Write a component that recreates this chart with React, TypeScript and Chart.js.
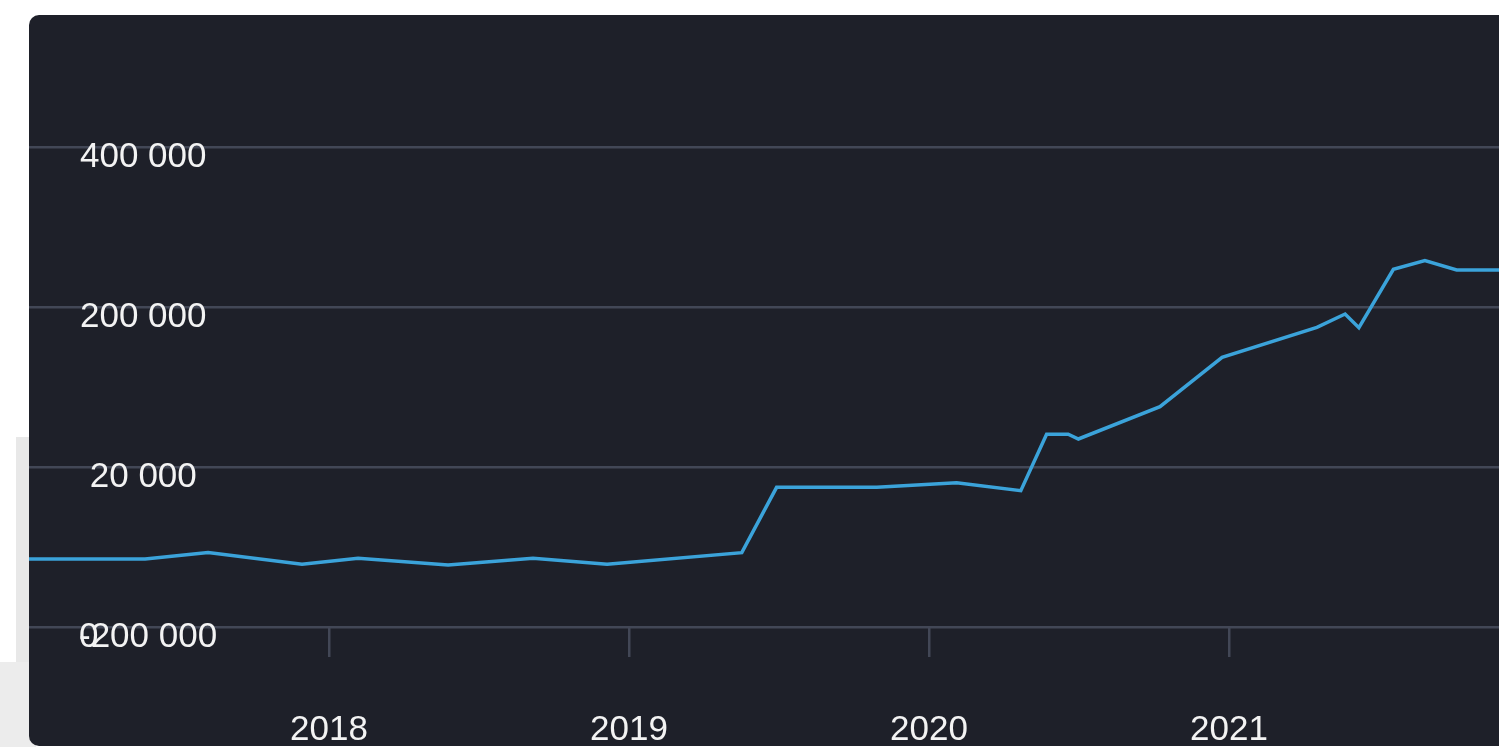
import React, { useEffect, useRef } from 'react';
import { Chart, registerables } from 'chart.js';

Chart.register(...registerables);

// Data (x = decimal year)
const years = [
  2017.0, 2017.387, 2017.597, 2017.91, 2018.097, 2018.397, 2018.68, 2018.927,
  2019.376, 2019.492, 2019.826, 2020.092, 2020.306, 2020.392, 2020.464, 2020.498,
  2020.77, 2020.977, 2021.293, 2021.387, 2021.433, 2021.548, 2021.653, 2021.759, 2022.0,
];
const values = [
  -115000, -115000, -107000, -121600, -114100, -122500, -114100, -121600,
  -107100, -25400, -25400, -19600, -29600, 40900, 40900, 35000,
  75400, 137100, 174600, 191250, 174100, 247100, 257900, 246250, 246250,
];

const yTickValues = [-200000, 0, 200000, 400000];
const yTickLabels = ['', '20 000', '200 000', '400 000'];
const yMinusLabels = ['-200 000', '', '', ''];
const yZeroLabels = ['0', '', '', ''];
const xTickValues = [2018, 2019, 2020, 2021];
const xTickLabels = ['2018', '2019', '2020', '2021'];

const Y_MIN = -200000;
const Y_MAX = 565000;
const X_MIN = 2017;
const X_MAX = 2022;

const FONT = { family: '"Liberation Sans", Arial, Helvetica, sans-serif', size: 35 };
const TEXT = '#f3f3f3';
const GRID = '#424756';
const LINE = '#3ba3da';
const BG = '#1e2029';

function zeroPad(scale: any) {
  scale.paddingTop = 0;
  scale.paddingBottom = 0;
  scale.paddingLeft = 0;
  scale.paddingRight = 0;
}

function yAxis(labels: string[], align: 'center' | 'near', padding: number, grid: boolean) {
  return {
    type: 'linear' as const,
    position: 'left' as const,
    min: Y_MIN,
    max: Y_MAX,
    afterBuildTicks: (scale: any) => {
      scale.ticks = yTickValues.map((v) => ({ value: v }));
    },
    afterFit: (scale: any) => {
      scale.width = 0;
      zeroPad(scale);
    },
    border: { display: false },
    grid: grid
      ? { display: true, color: GRID, lineWidth: 2.5, drawTicks: false, tickLength: 0 }
      : { display: false },
    ticks: {
      mirror: true,
      crossAlign: align,
      padding,
      labelOffset: 10,
      color: TEXT,
      font: FONT,
      callback: (value: any) => {
        const i = yTickValues.indexOf(Number(value));
        return i >= 0 ? labels[i] : '';
      },
    },
  };
}

export default function App() {
  const ref = useRef<HTMLCanvasElement | null>(null);

  useEffect(() => {
    if (!ref.current) return;
    const chart = new Chart(ref.current, {
      type: 'line',
      data: {
        datasets: [
          {
            data: years.map((x, i) => ({ x, y: values[i] })),
            borderColor: LINE,
            borderWidth: 3.5,
            pointRadius: 0,
            tension: 0,
            fill: false,
            xAxisID: 'x',
            yAxisID: 'y',
          },
        ],
      },
      options: {
        animation: false,
        responsive: false,
        maintainAspectRatio: false,
        devicePixelRatio: 1,
        layout: { padding: 0 },
        plugins: { legend: { display: false }, tooltip: { enabled: false } },
        events: [],
        scales: {
          x: {
            type: 'linear',
            position: 'bottom',
            min: X_MIN,
            max: X_MAX,
            afterBuildTicks: (scale: any) => {
              scale.ticks = xTickValues.map((v) => ({ value: v }));
            },
            afterFit: (scale: any) => {
              scale.height = 121;
              zeroPad(scale);
            },
            border: { display: false },
            grid: {
              display: true,
              drawOnChartArea: false,
              drawTicks: true,
              tickLength: 30,
              color: GRID,
              lineWidth: 2.5,
            },
            ticks: {
              padding: 52,
              color: TEXT,
              font: FONT,
              maxRotation: 0,
              autoSkip: false,
              callback: (value: any) => {
                const i = xTickValues.indexOf(Number(value));
                return i >= 0 ? xTickLabels[i] : '';
              },
            },
          },
          y: yAxis(yTickLabels, 'center', 51, true),
          yMinus: yAxis(yMinusLabels, 'near', 50, false),
          yZero: yAxis(yZeroLabels, 'near', 50, false),
        },
      } as any,
    });
    return () => chart.destroy();
  }, []);

  return (
    <div
      style={{
        position: 'fixed',
        left: 0,
        top: 0,
        width: 1499,
        height: 747,
        overflow: 'hidden',
        background: '#ffffff',
      }}
    >
      <div style={{ position: 'absolute', left: 16, top: 437, width: 20, height: 225, background: '#e8e8e8' }} />
      <div style={{ position: 'absolute', left: 0, top: 662, width: 36, height: 85, background: '#ececec' }} />
      <div
        style={{
          position: 'absolute',
          left: 29,
          top: 15,
          width: 1520,
          height: 731,
          background: BG,
          borderRadius: 10,
          overflow: 'hidden',
        }}
      >
        <canvas
          ref={ref}
          width={1500}
          height={733}
          style={{ position: 'absolute', left: 0, top: 0, width: 1500, height: 733 }}
        />
      </div>
    </div>
  );
}
